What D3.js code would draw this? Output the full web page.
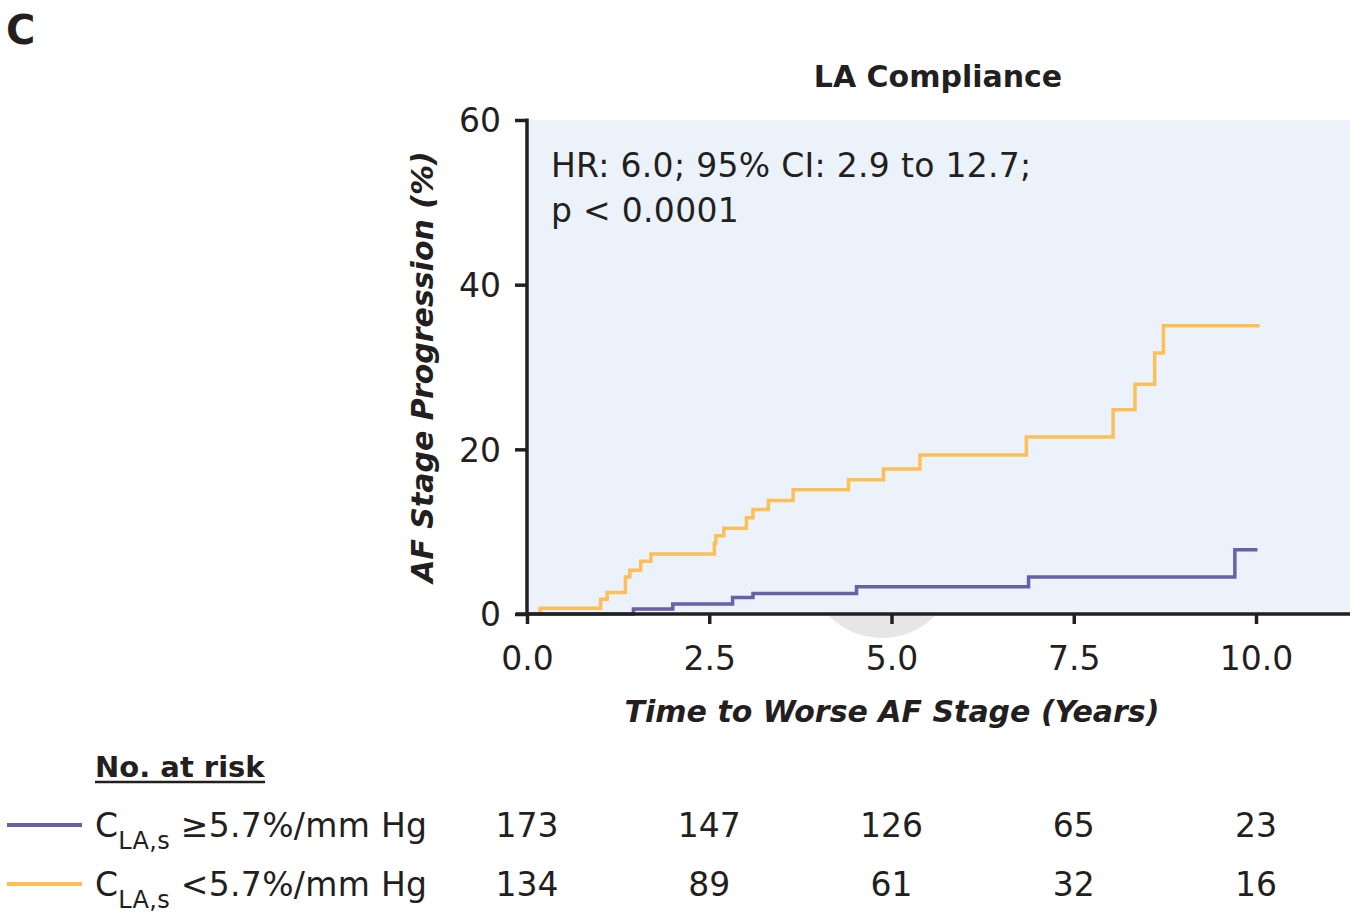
<!DOCTYPE html>
<html><head><meta charset="utf-8">
<script src="https://cdn.jsdelivr.net/npm/d3@7"></script>
<style>body{margin:0;background:#fff;} text{font-family:"DejaVu Sans",sans-serif;fill:#231F20;}</style>
</head><body>
<svg id="c" width="1358" height="918"></svg>
<script>
// Data
const xTicks = [0, 2.5, 5, 7.5, 10];
const yTicks = [0, 20, 40, 60];
const highTime = [0, 1.46, 2.0, 2.82, 3.10, 4.52, 6.88, 9.71, 10.02];
const highVal  = [0, 0.6, 1.2, 2.0, 2.5, 3.3, 4.5, 7.8, 7.8];
const lowTime = [0, 0.18, 1.01, 1.10, 1.35, 1.41, 1.56, 1.70, 2.57, 2.59, 2.70, 3.01, 3.10, 3.31, 3.65, 4.41, 4.89, 5.39, 6.85, 8.04, 8.34, 8.61, 8.73, 10.05];
const lowVal  = [0, 0.7, 1.8, 2.6, 4.5, 5.3, 6.4, 7.3, 8.6, 9.5, 10.4, 11.7, 12.7, 13.8, 15.1, 16.3, 17.6, 19.3, 21.5, 24.8, 27.9, 31.7, 35.0, 35.0];
const groups = ["≥5.7%/mm Hg", "<5.7%/mm Hg"];
const atRiskHigh = [173, 147, 126, 65, 23];
const atRiskLow  = [134, 89, 61, 32, 16];
const colors = ["#6761A6", "#FFBF57"];

const svg = d3.select("#c");
const x = d3.scaleLinear().domain([0, 10]).range([527, 1256]);
const y = d3.scaleLinear().domain([0, 60]).range([614, 120]);
const ink = "#231F20";

// watermark-like grey disc
svg.append("circle").attr("cx", 882).attr("cy", 563).attr("r", 75).attr("fill", "#E6E6E6");
// plot background
svg.append("rect").attr("x", 527).attr("y", 120).attr("width", 1350 - 527).attr("height", 614 - 120).attr("fill", "#EBF2FA");

// panel letter & title
svg.append("text").attr("x", 6).attr("y", 44).attr("font-size", 40).attr("font-weight", 700).text("C");
svg.append("text").attr("x", 938).attr("y", 87).attr("text-anchor", "middle").attr("font-size", 30).attr("font-weight", 700).text("LA Compliance");

// stats
svg.append("text").attr("x", 551).attr("y", 177).attr("font-size", 33).attr("letter-spacing", 0.3).text("HR: 6.0; 95% CI: 2.9 to 12.7;");
svg.append("text").attr("x", 551).attr("y", 222).attr("font-size", 33).attr("letter-spacing", 0.3).text("p < 0.0001");

// lines
const line = d3.line().x(d => x(d[0])).y(d => y(d[1])).curve(d3.curveStepAfter);
const series = [d3.zip(highTime, highVal), d3.zip(lowTime, lowVal)];
[1, 0].forEach(i => {
  svg.append("path").datum(series[i]).attr("d", line).attr("fill", "none")
    .attr("stroke", colors[i]).attr("stroke-width", 3.5);
});

// axes
const yAxis = d3.axisLeft(y).tickValues(yTicks).tickSize(12).tickPadding(10).tickFormat(d3.format("d"));
const gy = svg.append("g").attr("transform", "translate(527,0)").call(yAxis);
gy.select(".domain").remove();
gy.selectAll(".tick line").attr("stroke", ink).attr("stroke-width", 3.5);
gy.selectAll(".tick text").attr("font-size", 33).attr("fill", ink).attr("dy", "0.36em").attr("x", -26).attr("font-family", "DejaVu Sans");
svg.append("line").attr("x1", 527).attr("x2", 527).attr("y1", 118.5).attr("y2", 616).attr("stroke", ink).attr("stroke-width", 3.5);

const xAxis = d3.axisBottom(x).tickValues(xTicks).tickSize(10).tickPadding(12).tickFormat(d3.format(".1f"));
const gx = svg.append("g").attr("transform", "translate(0,614)").call(xAxis);
gx.select(".domain").remove();
gx.selectAll(".tick line").attr("stroke", ink).attr("stroke-width", 3.5);
gx.selectAll(".tick text").attr("font-size", 33).attr("fill", ink).attr("dy", "0").attr("y", 56).attr("font-family", "DejaVu Sans");
svg.append("line").attr("x1", 516).attr("x2", 1350).attr("y1", 614).attr("y2", 614).attr("stroke", ink).attr("stroke-width", 3.5);

// axis titles
svg.append("text").attr("transform", "translate(433,367) rotate(-90)").attr("text-anchor", "middle")
  .attr("font-size", 30).attr("font-weight", 700).attr("font-style", "italic").text("AF Stage Progression (%)");
svg.append("text").attr("x", 892).attr("y", 722).attr("text-anchor", "middle")
  .attr("font-size", 30).attr("font-weight", 700).attr("font-style", "italic").text("Time to Worse AF Stage (Years)");

// at risk table
svg.append("text").attr("x", 95).attr("y", 777).attr("font-size", 29).attr("font-weight", 700).text("No. at risk");
svg.append("line").attr("x1", 95).attr("x2", 265).attr("y1", 782).attr("y2", 782).attr("stroke", ink).attr("stroke-width", 2.5);

const rowsY = [825, 884];
const risks = [atRiskHigh, atRiskLow];
groups.forEach((g, i) => {
  svg.append("line").attr("x1", 7).attr("x2", 82).attr("y1", rowsY[i]).attr("y2", rowsY[i])
    .attr("stroke", colors[i]).attr("stroke-width", 4);
  const t = svg.append("text").attr("x", 95).attr("y", rowsY[i] + 12).attr("font-size", 33).attr("letter-spacing", 0.3);
  t.append("tspan").text("C");
  t.append("tspan").attr("font-size", 24).attr("dy", 12).text("LA,s");
  t.append("tspan").attr("dy", -12).text(" " + g);
  svg.append("g").selectAll("text").data(risks[i]).join("text")
    .attr("x", (d, j) => x(xTicks[j])).attr("y", rowsY[i] + 12).attr("text-anchor", "middle")
    .attr("font-size", 33).text(d => d);
});
</script>
</body></html>
